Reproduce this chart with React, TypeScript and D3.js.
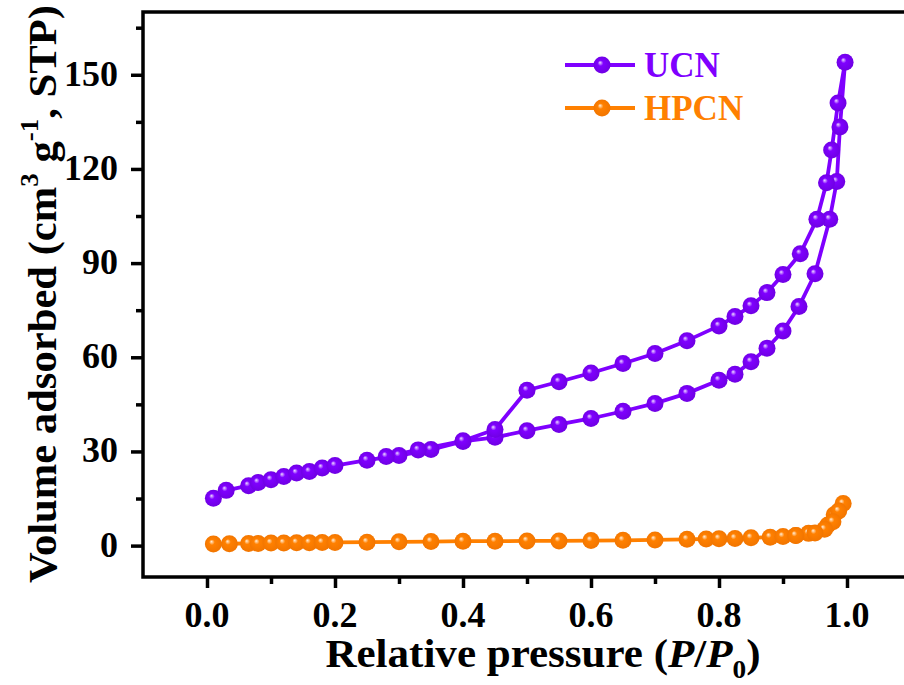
import React, { useEffect, useRef } from 'react';
import * as d3 from 'd3';

// UCN isotherm: adsorption branch, then desorption branch
const ucnAdsP = [0.01, 0.03, 0.065, 0.08, 0.1, 0.12, 0.14, 0.16, 0.18, 0.2, 0.25, 0.3, 0.35, 0.4, 0.45, 0.5, 0.55, 0.6, 0.65, 0.7, 0.75, 0.8, 0.825, 0.85, 0.875, 0.9, 0.925, 0.95, 0.973, 0.984, 0.989, 0.997];
const ucnAdsV = [15.1, 17.6, 19.1, 20.1, 21.0, 22.0, 23.1, 23.6, 24.7, 25.5, 27.2, 28.7, 30.6, 33.2, 34.5, 36.6, 38.6, 40.5, 42.8, 45.3, 48.5, 52.7, 54.6, 58.6, 62.9, 68.4, 76.2, 86.6, 104, 116, 133.4, 154];
const ucnDesP = [0.986, 0.976, 0.968, 0.953, 0.927, 0.9, 0.875, 0.85, 0.825, 0.8, 0.75, 0.7, 0.65, 0.6, 0.55, 0.5, 0.45, 0.4, 0.33, 0.28];
const ucnDesV = [141, 126, 115.6, 104, 93, 86.4, 80.6, 76.4, 73, 70, 65.3, 61.2, 58, 55, 52.2, 49.5, 37, 33.4, 30.5, 28.4];

// HPCN isotherm
const hpcnAdsP = [0.01, 0.035, 0.065, 0.08, 0.1, 0.12, 0.14, 0.16, 0.18, 0.2, 0.25, 0.3, 0.35, 0.4, 0.45, 0.5, 0.55, 0.6, 0.65, 0.7, 0.75, 0.78, 0.8, 0.825, 0.85, 0.88, 0.9, 0.92, 0.94, 0.97, 0.98, 0.994];
const hpcnAdsV = [0.5, 0.6, 0.7, 0.7, 0.8, 0.8, 0.9, 0.9, 1.0, 1.0, 1.1, 1.2, 1.3, 1.4, 1.4, 1.5, 1.5, 1.6, 1.7, 1.8, 2.0, 2.1, 2.2, 2.3, 2.5, 2.7, 2.9, 3.2, 3.9, 6.6, 9.8, 13.4];
const hpcnDesP = [0.987, 0.978, 0.965, 0.95, 0.92];
const hpcnDesV = [11, 7.6, 5.2, 4.0, 3.2];

const yTicks = [0, 30, 60, 90, 120, 150];
const yMinor = [15, 45, 75, 105, 135, 165];
const xTicks = [0, 0.2, 0.4, 0.6, 0.8, 1.0];
const xMinor = [0.1, 0.3, 0.5, 0.7, 0.9, 1.1];

const PURPLE = '#7f00ff';
const ORANGE = '#ff8000';
const FONT = '"Liberation Serif", "Times New Roman", serif';

const App = () => {
  const svgRef = useRef(null);

  useEffect(() => {
    const svg = d3.select(svgRef.current);
    svg.selectAll('*').remove();

    const left = 143, right = 911, top = 12, bottom = 577;
    const x = d3.scaleLinear().domain([-0.1, 1.1]).range([left, right]);
    const y = d3.scaleLinear().domain([-10, 170]).range([bottom, top]);

    const defs = svg.append('defs');
    const grad = (id, light, base, dark) => {
      const g = defs.append('radialGradient').attr('id', id)
        .attr('cx', '0.5').attr('cy', '0.5').attr('r', '0.55')
        .attr('fx', '0.38').attr('fy', '0.35');
      g.append('stop').attr('offset', '0%').attr('stop-color', light);
      g.append('stop').attr('offset', '30%').attr('stop-color', base);
      g.append('stop').attr('offset', '100%').attr('stop-color', dark);
    };
    grad('gPurple', '#eedcff', PURPLE, '#6d00e0');
    grad('gOrange', '#fff0dc', ORANGE, '#f07400');

    const series = [
      { pts: ucnAdsP.map((p, i) => [p, ucnAdsV[i]]).concat(ucnDesP.map((p, i) => [p, ucnDesV[i]])), color: PURPLE, fill: 'url(#gPurple)' },
      { pts: hpcnAdsP.map((p, i) => [p, hpcnAdsV[i]]).concat(hpcnDesP.map((p, i) => [p, hpcnDesV[i]])), color: ORANGE, fill: 'url(#gOrange)' },
    ];

    const line = d3.line().x((d) => x(d[0])).y((d) => y(d[1]));

    series.forEach((s) => {
      svg.append('path').datum(s.pts)
        .attr('fill', 'none').attr('stroke', s.color)
        .attr('stroke-width', 3.8).attr('stroke-linejoin', 'round')
        .attr('d', line);
      svg.append('g').selectAll('circle').data(s.pts).join('circle')
        .attr('cx', (d) => x(d[0])).attr('cy', (d) => y(d[1]))
        .attr('r', 8.5).attr('fill', s.fill);
    });

    // frame
    svg.append('rect')
      .attr('x', left).attr('y', top)
      .attr('width', right - left).attr('height', bottom - top)
      .attr('fill', 'none').attr('stroke', '#000').attr('stroke-width', 3.5);

    // x axis ticks
    const gx = svg.append('g').attr('transform', `translate(0,${bottom})`);
    gx.call(d3.axisBottom(x).tickValues(xMinor).tickSize(7).tickFormat(() => ''));
    gx.call((g) => g.append('g').call(d3.axisBottom(x).tickValues(xTicks).tickSize(11).tickFormat(() => '')));
    gx.selectAll('.domain').remove();
    gx.selectAll('line').attr('stroke', '#000').attr('stroke-width', 3.5);
    gx.selectAll('text').remove();
    svg.append('g').selectAll('text').data(xTicks).join('text')
      .attr('x', (d) => x(d)).attr('y', bottom + 50)
      .attr('text-anchor', 'middle')
      .attr('font-family', FONT).attr('font-weight', 'bold').attr('font-size', 36)
      .text(d3.format('.1f'));

    // y axis ticks
    const gy = svg.append('g').attr('transform', `translate(${left},0)`);
    gy.call(d3.axisLeft(y).tickValues(yMinor).tickSize(7).tickFormat(() => ''));
    gy.call((g) => g.append('g').call(d3.axisLeft(y).tickValues(yTicks).tickSize(12).tickFormat(() => '')));
    gy.selectAll('.domain').remove();
    gy.selectAll('line').attr('stroke', '#000').attr('stroke-width', 3.5);
    gy.selectAll('text').remove();
    svg.append('g').selectAll('text').data(yTicks).join('text')
      .attr('x', 118).attr('y', (d) => y(d) + 11)
      .attr('text-anchor', 'end')
      .attr('font-family', FONT).attr('font-weight', 'bold').attr('font-size', 36)
      .text(d3.format('d'));

    // axis titles
    const xt = svg.append('text')
      .attr('transform', 'translate(543,667) scale(1.05,1)')
      .attr('text-anchor', 'middle')
      .attr('font-family', FONT).attr('font-weight', 'bold').attr('font-size', 41);
    xt.append('tspan').text('Relative pressure (');
    xt.append('tspan').attr('font-style', 'italic').text('P');
    xt.append('tspan').text('/');
    xt.append('tspan').attr('font-style', 'italic').text('P');
    xt.append('tspan').attr('font-size', 26).attr('dy', 11).text('0');
    xt.append('tspan').attr('dy', -11).text(')');

    const yt = svg.append('text')
      .attr('transform', 'translate(56,294) rotate(-90) scale(1.04,1)')
      .attr('text-anchor', 'middle')
      .attr('font-family', FONT).attr('font-weight', 'bold').attr('font-size', 41);
    yt.append('tspan').text('Volume adsorbed (cm');
    yt.append('tspan').attr('font-size', 26).attr('dy', -18).text('3');
    yt.append('tspan').attr('dy', 18).text(' g');
    yt.append('tspan').attr('font-size', 26).attr('dy', -18).text('-1');
    yt.append('tspan').attr('dy', 18).text(', STP)');

    // legend
    const legend = [
      { label: 'UCN', color: PURPLE, fill: 'url(#gPurple)', cy: 65 },
      { label: 'HPCN', color: ORANGE, fill: 'url(#gOrange)', cy: 108 },
    ];
    legend.forEach((l) => {
      svg.append('line').attr('x1', 565).attr('x2', 635).attr('y1', l.cy).attr('y2', l.cy)
        .attr('stroke', l.color).attr('stroke-width', 3.8);
      svg.append('circle').attr('cx', 602).attr('cy', l.cy).attr('r', 8.5).attr('fill', l.fill);
      svg.append('text').attr('x', 644).attr('y', l.cy + 12)
        .attr('font-family', FONT).attr('font-weight', 'bold').attr('font-size', 35)
        .attr('fill', l.color).text(l.label);
    });
  }, []);

  return (
    <svg
      ref={svgRef}
      width={904}
      height={685}
      style={{ position: 'absolute', left: 0, top: 0, background: '#fff' }}
    />
  );
};

export default App;
